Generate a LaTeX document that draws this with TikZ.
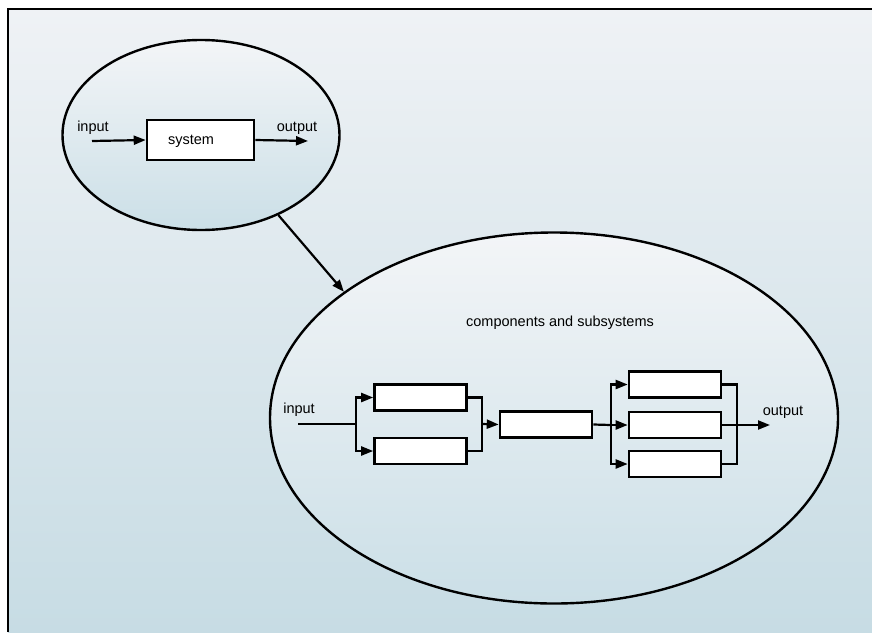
\documentclass[tikz,border=0pt]{standalone}
\usepackage{fontspec}
\setmainfont{Liberation Sans}
\usetikzlibrary{arrows.meta,shapes.geometric}
\definecolor{bgtop}{RGB}{239,242,245}
\definecolor{bgbottom}{RGB}{199,220,228}
\definecolor{elltop}{RGB}{243,245,247}
\definecolor{ellbottom}{RGB}{203,223,231}

\tikzset{
  blob/.style={ellipse,draw,line width=2.4pt,inner sep=0pt,
    top color=elltop,bottom color=ellbottom},
  block/.style={draw,fill=white,line width=2.6pt,inner sep=0pt,
    minimum width=92pt,minimum height=26pt},
  wire/.style={line width=2.2pt},
  flow/.style={wire,-{Triangle[length=12pt,width=9pt]}},
  lbl/.style={inner sep=0pt,font=\fontsize{14.5}{17}\selectfont}
}

\begin{document}
\begin{tikzpicture}[x=1pt,y=-1pt]
  \useasboundingbox (0,0) rectangle (872,632);
  % page background and frame
  \fill[top color=bgtop,bottom color=bgbottom] (8,9) rectangle (872,632);
  \draw[line width=2.6pt] (8,632) -- (8,9) -- (872,9);

  % the system as a whole
  \node[blob,minimum width=277pt,minimum height=190pt] (whole) at (201,135) {};
  \node[block,minimum width=107pt,minimum height=40pt] (sys) at (200.5,140) {};
  \node[lbl] at (191,141) {system};
  \node[lbl] (sysin) at (93,128) {input};
  \node[lbl] (sysout) at (297,128) {output};
  \coordinate (sysstart) at (92,141);
  \coordinate (sysend) at (308,141);
  \draw[flow] (sysstart) -- (sys.west);
  \draw[flow] (sys.east) -- (sysend);

  % zoom into the parts
  \node[blob,minimum width=568pt,minimum height=371pt] (parts) at (554,418) {};
  \draw[flow] (whole.-46) -- (parts.149);
  \node[lbl] (title) at (560,323) {components and subsystems};

  % blocks
  \node[block] (a1) at (420.5,397.5) {};
  \node[block] (a2) at (420.5,451) {};
  \node[block] (b) at (546,424.5) {};
  \node[block] (c1) at (675,384.5) {};
  \node[block] (c2) at (675,425) {};
  \node[block] (c3) at (675,464) {};

  % connections
  \node[lbl] (inlbl) at (299,410) {input};
  \node[lbl] (outlbl) at (783,412) {output};
  \coordinate (start) at (298,424);
  \coordinate (split1) at (356,424);
  \coordinate (join1) at (482,424);
  \coordinate (split2) at (611,425);
  \coordinate (join2) at (737,425);
  \coordinate (finish) at (770,425);
  \draw[wire] (start) -- (split1);
  \draw[flow] (split1) |- (a1.west);
  \draw[flow] (split1) |- (a2.west);
  \draw[wire] (a1.east) -| (join1) |- (a2.east);
  \draw[flow] (join1) -- (b.west);
  \draw[wire] (b.east) -- (split2);
  \foreach \c in {c1,c2,c3}
    \draw[flow] (split2) |- (\c.west);
  \draw[wire] (c1.east) -| (join2) |- (c3.east);
  \draw[flow] (c2.east) -- (finish);
\end{tikzpicture}
\end{document}
